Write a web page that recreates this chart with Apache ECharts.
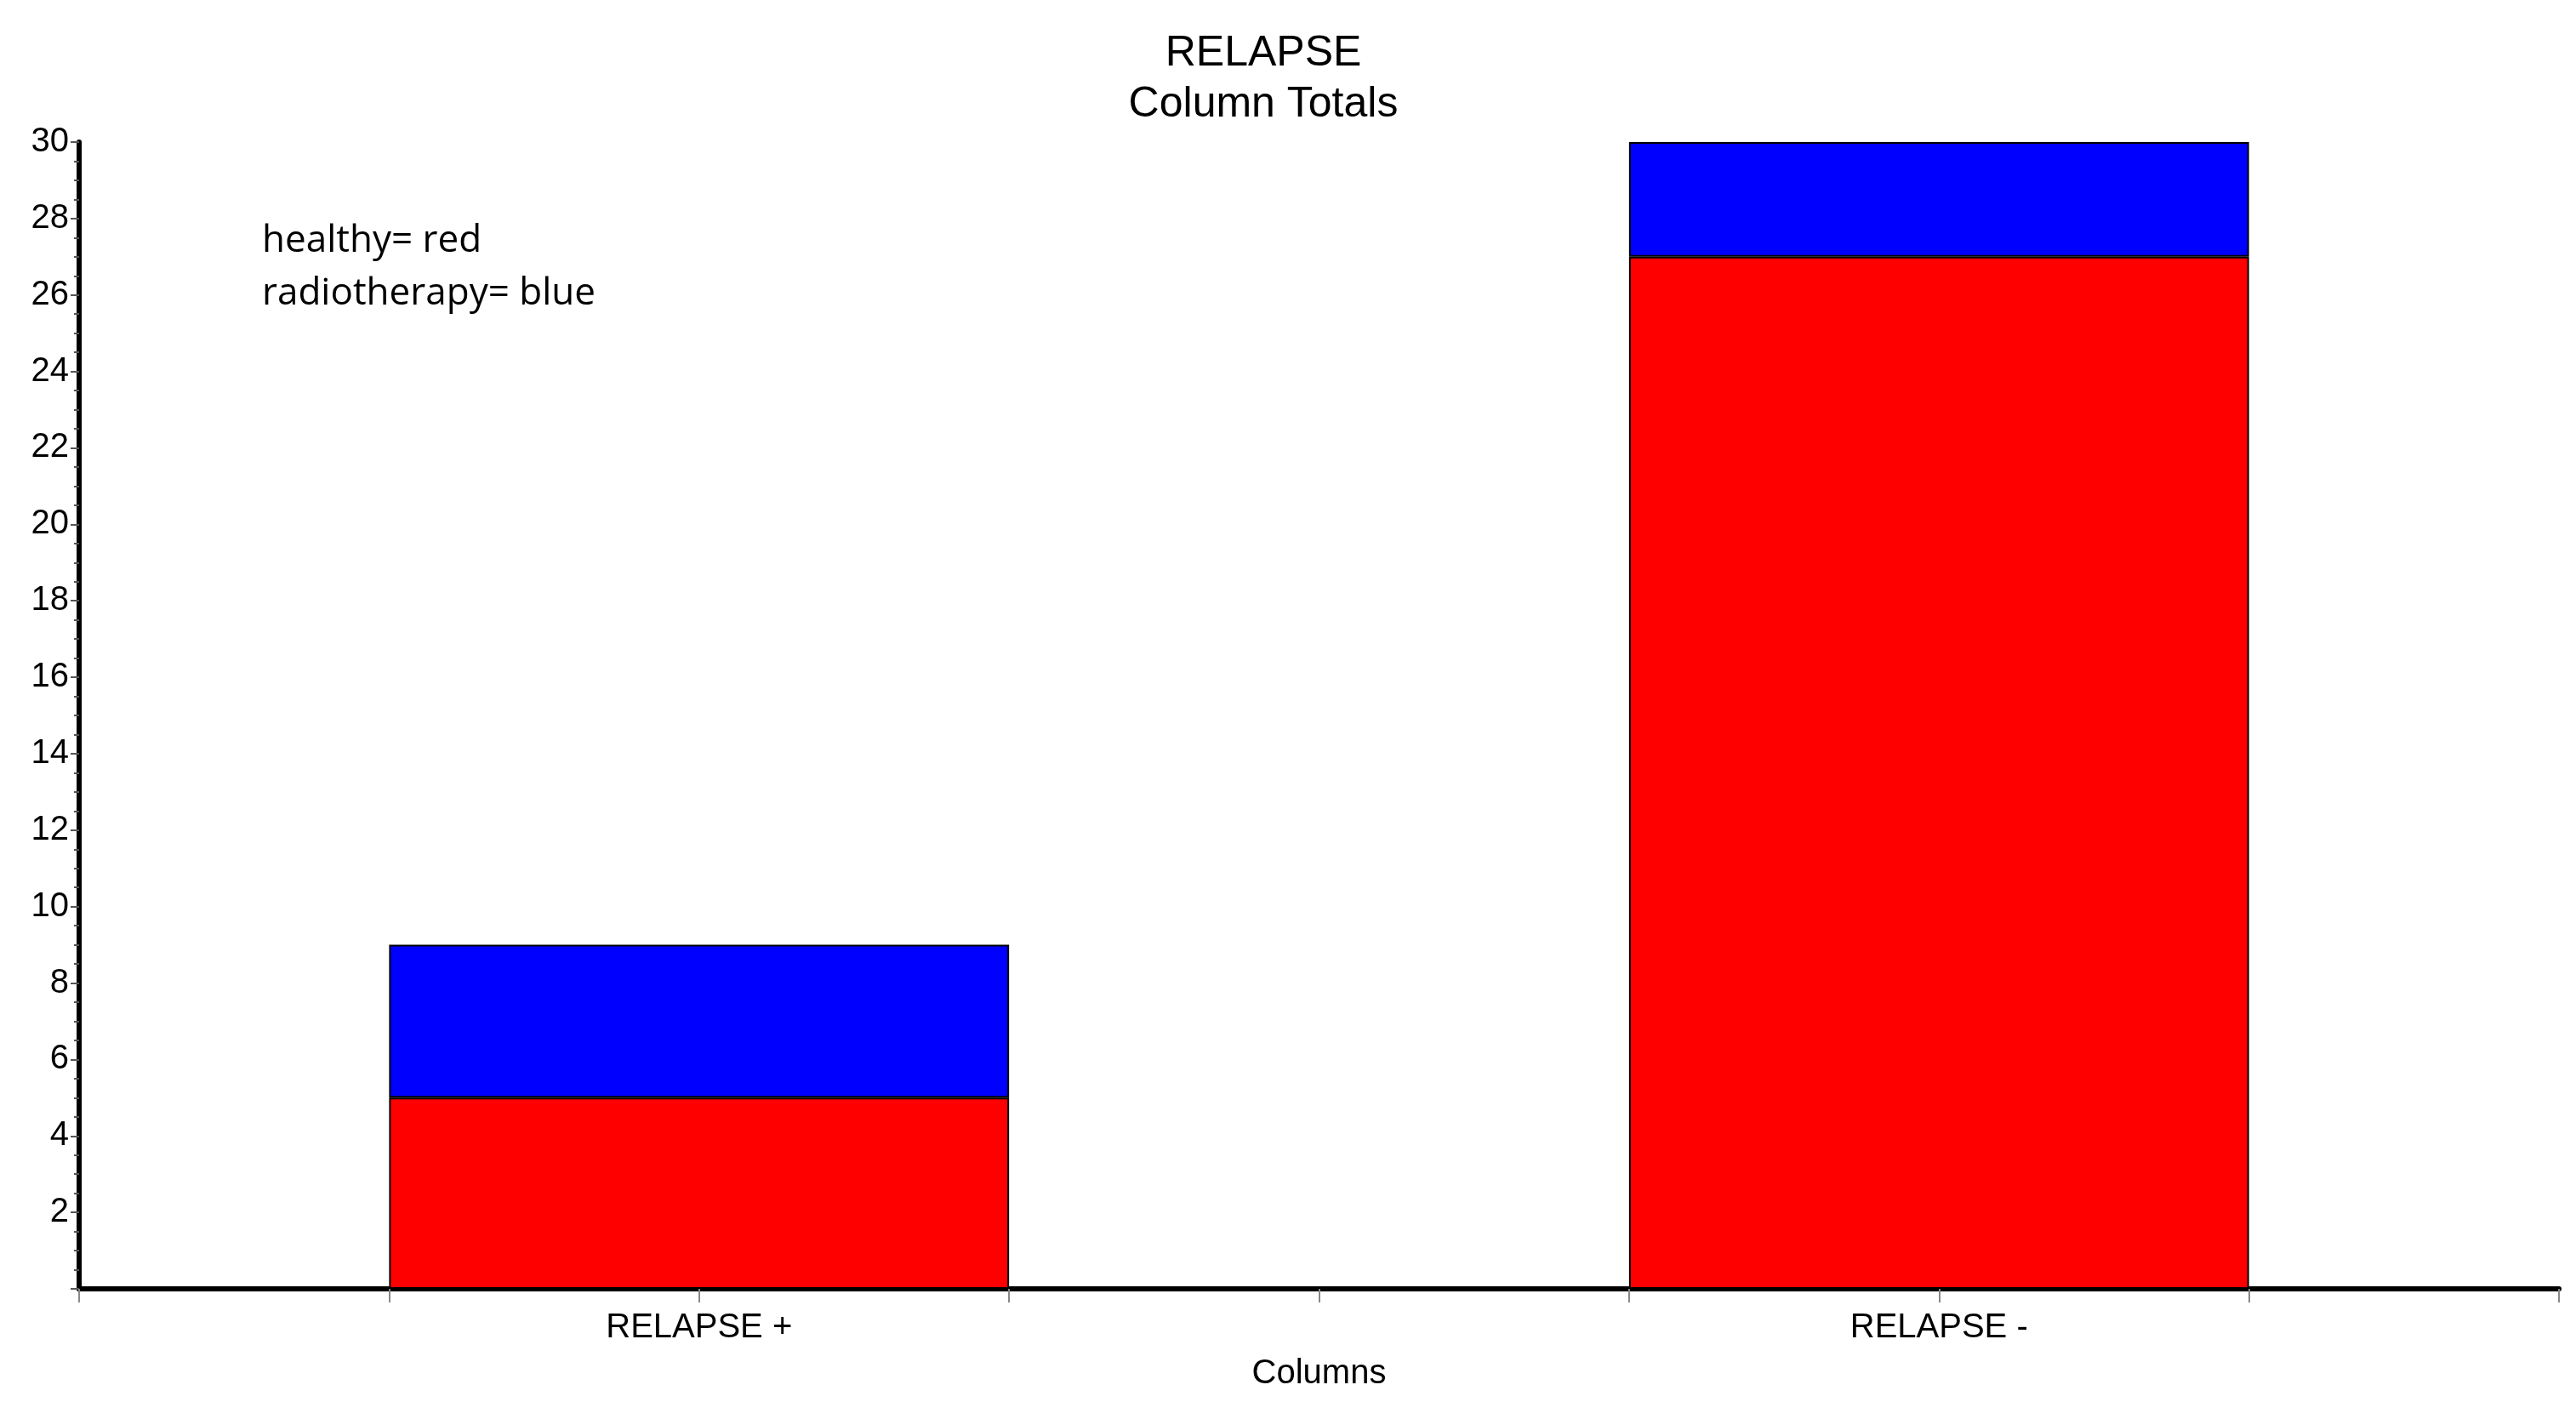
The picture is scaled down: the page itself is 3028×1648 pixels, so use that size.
<!DOCTYPE html>
<html><head><meta charset="utf-8">
<script src="https://cdn.jsdelivr.net/npm/echarts@6/dist/echarts.min.js"></script>
<style>html,body{margin:0;background:#fff}#main{width:3028px;height:1648px}</style>
</head><body><div id="main"></div>
<script>
var categories=['RELAPSE +','RELAPSE -'];
var healthy=[5,27];
var radiotherapy=[4,3];

var myChart=echarts.init(document.getElementById('main'));
var option={
  backgroundColor:'#fff',
  animation:false,
  title:{
    text:'RELAPSE\nColumn Totals',
    left:1480,top:28,textAlign:'center',
    textStyle:{fontFamily:'Liberation Sans',fontWeight:'normal',fontSize:50,lineHeight:60,color:'#000'}
  },
  graphic:[{
    type:'text',left:308,top:252,
    style:{text:'healthy= red\nradiotherapy= blue',font:'44px "Open Sans"',lineHeight:62,fill:'#000'}
  }],
  grid:{left:93,right:20,top:167,bottom:133},
  xAxis:[{
    type:'category',data:categories,
    name:'Columns',nameLocation:'middle',nameGap:80,
    nameTextStyle:{fontFamily:'Liberation Sans',fontSize:40,color:'#000'},
    axisLine:{lineStyle:{color:'#000',width:6}},
    axisTick:{show:false},
    axisLabel:{fontFamily:'Liberation Sans',fontSize:40,color:'#000',margin:26}
  },{
    type:'value',min:0,max:4,interval:0.5,position:'bottom',
    axisLine:{show:false},axisLabel:{show:false},splitLine:{show:false},
    axisTick:{show:true,length:16,lineStyle:{color:'#888',width:2}}
  }],
  yAxis:{
    type:'value',min:0,max:30,interval:2,
    axisLine:{show:true,lineStyle:{color:'#000',width:6}},
    axisTick:{show:true,length:10,lineStyle:{color:'#555',width:2}},
    minorTick:{show:true,splitNumber:4,length:6,lineStyle:{color:'#555',width:2}},
    splitLine:{show:false},
    axisLabel:{fontFamily:'Liberation Sans',fontSize:40,color:'#000',margin:12,
      formatter:function(v){return v===0?'':v;}}
  },
  series:[{
    name:'healthy',type:'bar',stack:'t',data:healthy,barWidth:'50%',
    itemStyle:{color:'#ff0000',borderColor:'#000',borderWidth:2}
  },{
    name:'radiotherapy',type:'bar',stack:'t',data:radiotherapy,barWidth:'50%',
    itemStyle:{color:'#0000ff',borderColor:'#000',borderWidth:2}
  }]
};
myChart.setOption(option);
</script></body></html>
